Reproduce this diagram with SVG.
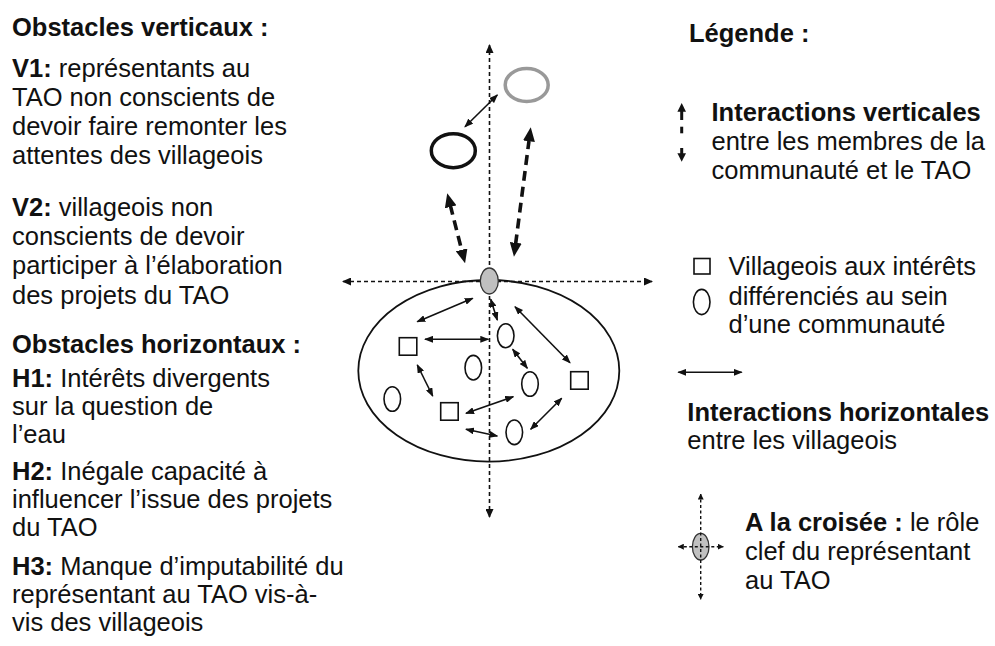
<svg xmlns="http://www.w3.org/2000/svg" width="995" height="646" viewBox="0 0 995 646">
<defs>
<style>
text{font-family:"Liberation Sans",Arial,sans-serif;font-size:25.5px;fill:#111}
.b{font-weight:bold}
.axis{stroke:#111;stroke-width:1.6;stroke-dasharray:4 3;fill:none}
.thin{stroke:#111;stroke-width:1.6;fill:none;marker-start:url(#ah);marker-end:url(#ah)}
.thick{stroke:#111;stroke-width:3.6;stroke-dasharray:10 6;fill:none;marker-start:url(#bh);marker-end:url(#bh)}
.node{fill:none;stroke:#111;stroke-width:1.6}
</style>
<marker id="ah" viewBox="0 0 9 7" refX="8" refY="3.5" markerWidth="9" markerHeight="7" markerUnits="userSpaceOnUse" orient="auto-start-reverse"><path d="M0,0 L9,3.5 L0,7 z" fill="#111"/></marker>
<marker id="bh" viewBox="0 0 14 12" refX="2" refY="6" markerWidth="14" markerHeight="12" markerUnits="userSpaceOnUse" orient="auto-start-reverse"><path d="M0,0 L14,6 L0,12 z" fill="#111"/></marker>
<marker id="xh" viewBox="0 0 9 8" refX="8" refY="4" markerWidth="9" markerHeight="8" markerUnits="userSpaceOnUse" orient="auto-start-reverse"><path d="M0,0 L9,4 L0,8 z" fill="#111"/></marker>
<marker id="sh" viewBox="0 0 6 6" refX="5.5" refY="3" markerWidth="6" markerHeight="6" markerUnits="userSpaceOnUse" orient="auto-start-reverse"><path d="M0,0 L6,3 L0,6 z" fill="#111"/></marker>
</defs>
<rect width="995" height="646" fill="#fff"/>

<g id="left-text">
<text x="12" y="35.5" class="b">Obstacles verticaux :</text>
<text x="12" y="77"><tspan class="b">V1:</tspan> représentants au</text>
<text x="12" y="106">TAO non conscients de</text>
<text x="12" y="135">devoir faire remonter les</text>
<text x="12" y="164">attentes des villageois</text>
<text x="12" y="216"><tspan class="b">V2:</tspan> villageois non</text>
<text x="12" y="245">conscients de devoir</text>
<text x="12" y="274">participer à l’élaboration</text>
<text x="12" y="304">des projets du TAO</text>
<text x="12" y="353" class="b">Obstacles horizontaux :</text>
<text x="12" y="387"><tspan class="b">H1:</tspan> Intérêts divergents</text>
<text x="12" y="415">sur la question de</text>
<text x="12" y="443">l’eau</text>
<text x="12" y="480"><tspan class="b">H2:</tspan> Inégale capacité à</text>
<text x="12" y="508">influencer l’issue des projets</text>
<text x="12" y="536">du TAO</text>
<text x="12" y="575"><tspan class="b">H3:</tspan> Manque d’imputabilité du</text>
<text x="12" y="603">représentant au TAO vis-à-</text>
<text x="12" y="631">vis des villageois</text>
</g>

<g id="community">
<ellipse cx="488.8" cy="370.8" rx="130.5" ry="90.8" fill="none" stroke="#111" stroke-width="1.8"/>
</g>

<g id="connectors">
<line class="axis" x1="489.5" y1="517" x2="489.5" y2="45" marker-start="url(#xh)" marker-end="url(#xh)"/>
<line class="axis" x1="343" y1="281.5" x2="652" y2="281.5" marker-start="url(#xh)" marker-end="url(#xh)"/>
<line class="thick" x1="450.2" y1="204.9" x2="462.1" y2="251.7"/>
<line class="thick" x1="529.2" y1="139.2" x2="515.5" y2="244.8"/>
<line class="thin" x1="465" y1="126.7" x2="497.3" y2="95"/>
<line class="thin" x1="417.3" y1="321.7" x2="472.7" y2="298.3"/>
<line class="thin" x1="425" y1="339.3" x2="488.3" y2="339.3"/>
<line class="thin" x1="490.7" y1="299.3" x2="497.3" y2="320"/>
<line class="thin" x1="515" y1="306.7" x2="570" y2="362.7"/>
<line class="thin" x1="512.7" y1="349.3" x2="527.3" y2="368.3"/>
<line class="thin" x1="417.3" y1="365" x2="432.7" y2="396"/>
<line class="thin" x1="466" y1="413.3" x2="513.3" y2="396.7"/>
<line class="thin" x1="466" y1="429.3" x2="497.3" y2="436"/>
<line class="thin" x1="530.7" y1="429.3" x2="561.7" y2="398.3"/>
</g>

<g id="representative">
<ellipse cx="489.3" cy="281" rx="9" ry="13" fill="#c0c0c0" stroke="#333" stroke-width="1.3"/>
</g>
<g id="tao-gray">
<ellipse cx="526.7" cy="85" rx="21.5" ry="16.5" fill="none" stroke="#999" stroke-width="3.5"/>
</g>
<g id="tao-black">
<ellipse cx="453.3" cy="150.7" rx="22" ry="17" fill="none" stroke="#111" stroke-width="3.5"/>
</g>
<g id="villagers">
<rect class="node" x="399.3" y="337.7" width="17.5" height="17.5"/>
<rect class="node" x="440.7" y="402.7" width="17.5" height="17.5"/>
<rect class="node" x="570.7" y="371.7" width="17.5" height="17.5"/>
<ellipse class="node" cx="505.7" cy="335.7" rx="8.3" ry="12"/>
<ellipse class="node" cx="473.3" cy="367.7" rx="8.3" ry="12.3"/>
<ellipse class="node" cx="530" cy="384" rx="8.3" ry="12.3"/>
<ellipse class="node" cx="392.3" cy="399" rx="8.3" ry="12.3"/>
<ellipse class="node" cx="514.3" cy="432.3" rx="8.3" ry="12.3"/>
</g>

<g id="legend">
<text x="689" y="42" class="b">Légende :</text>
<path d="M681.7,103 L686,111.7 L677.4,111.7 z" fill="#111"/>
<line x1="681.7" y1="111" x2="681.7" y2="120" stroke="#111" stroke-width="3"/>
<line x1="681.7" y1="126.7" x2="681.7" y2="133.3" stroke="#111" stroke-width="3"/>
<line x1="681.7" y1="148" x2="681.7" y2="154" stroke="#111" stroke-width="3"/>
<path d="M681.7,161.7 L686,153.3 L677.4,153.3 z" fill="#111"/>
<text x="711.5" y="120.5" class="b">Interactions verticales</text>
<text x="711.5" y="149.5">entre les membres de la</text>
<text x="711.5" y="178.5">communauté et le TAO</text>

<rect x="694" y="258.5" width="16" height="15.5" fill="none" stroke="#111" stroke-width="1.6"/>
<ellipse cx="701.7" cy="302" rx="8.3" ry="12.6" fill="none" stroke="#111" stroke-width="1.6"/>
<text x="728.5" y="275">Villageois aux intérêts</text>
<text x="728.5" y="304.5">différenciés au sein</text>
<text x="728.5" y="333">d’une communauté</text>

<line class="thin" x1="678.3" y1="372.3" x2="741.7" y2="372.3"/>
<text x="687.3" y="420.5" class="b">Interactions horizontales</text>
<text x="687.3" y="449">entre les villageois</text>

<ellipse cx="700.7" cy="546.7" rx="8.3" ry="13.3" fill="#c0c0c0" stroke="#333" stroke-width="1.3"/>
<line x1="700.7" y1="494" x2="700.7" y2="599.3" stroke="#111" stroke-width="1.4" stroke-dasharray="3 2.5" marker-start="url(#sh)" marker-end="url(#sh)"/>
<line x1="678.3" y1="546.7" x2="723.3" y2="546.7" stroke="#111" stroke-width="1.4" stroke-dasharray="3 2.5" marker-start="url(#sh)" marker-end="url(#sh)"/>
<text x="745" y="530.5"><tspan class="b">A la croisée :</tspan> le rôle</text>
<text x="745" y="559.5">clef du représentant</text>
<text x="745" y="588.5">au TAO</text>
</g>
</svg>
